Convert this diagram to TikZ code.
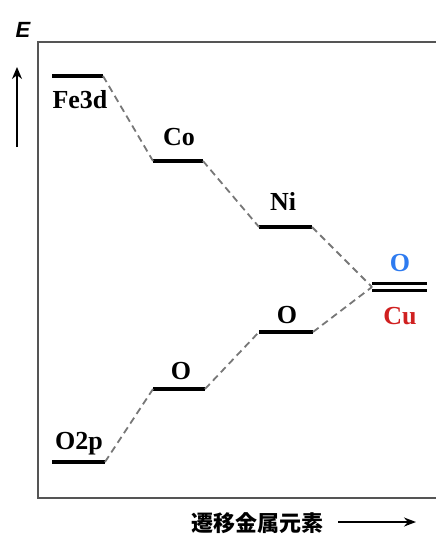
\documentclass[tikz,border=0pt]{standalone}
\usepackage{fontspec}
\setmainfont{Liberation Serif}
\newfontfamily\labsans{Liberation Sans}
\newfontfamily\cjk{Noto Sans CJK JP}
\usetikzlibrary{arrows.meta}
\definecolor{framegray}{HTML}{555555}
\definecolor{dashgray}{HTML}{777777}
\definecolor{oblue}{HTML}{2E7BF0}
\definecolor{cured}{HTML}{D02020}
\tikzset{
  level/.style={line width=3.2pt, black},
  conn/.style={dashgray, line width=1.8pt, dash pattern=on 7pt off 4.5pt},
  lab/.style={font=\fontsize{26}{30}\selectfont\bfseries, inner sep=0pt},
  frameline/.style={framegray, line width=2.4pt},
}
\begin{document}
\begin{tikzpicture}[x=1pt,y=-1pt]
\useasboundingbox (0,0) rectangle (436,535);
% frame
\draw[frameline] (436,42) -- (38,42) -- (38,498) -- (436,498);
% energy axis
\node[font=\labsans\fontsize{22}{24}\selectfont\bfseries\itshape, inner sep=0pt] (E) at (23,30) {E};
\coordinate (eb) at (17,147);
\coordinate (et) at (17,67);
\draw[black, line width=2pt, -{Stealth[length=12pt,width=10pt]}] (eb) -- (et);
% levels
\coordinate (feL) at (52,76);  \coordinate (feR) at (103,76);
\coordinate (coL) at (153,161); \coordinate (coR) at (203,161);
\coordinate (niL) at (259,227); \coordinate (niR) at (312,227);
\coordinate (cuL) at (372,287);
\coordinate (o2L) at (52,462); \coordinate (o2R) at (105,462);
\coordinate (o1L) at (153,389); \coordinate (o1R) at (205,389);
\coordinate (o0L) at (259,332); \coordinate (o0R) at (313,332);
\draw[level] (feL) -- (feR);
\draw[level] (coL) -- (coR);
\draw[level] (niL) -- (niR);
\draw[level] (o2L) -- (o2R);
\draw[level] (o1L) -- (o1R);
\draw[level] (o0L) -- (o0R);
\draw[black, line width=3pt] (372,283.5) -- (427,283.5);
\draw[black, line width=3pt] (372,290.8) -- (427,290.8);
% connectors
\draw[conn] (feR) -- (coL);
\draw[conn] (coR) -- (niL);
\draw[conn] (niR) -- (cuL);
\draw[conn] (o2R) -- (o1L);
\draw[conn] (o1R) -- (o0L);
\draw[conn] (o0R) -- (cuL);
% labels
\node[lab] (tfe) at (80,100) {Fe3d};
\node[lab] (tco) at (179,137) {Co};
\node[lab] (tni) at (283,201) {Ni};
\node[lab, oblue] (tob) at (400,263) {O};
\node[lab, cured] (tcu) at (400,316) {Cu};
\node[lab] (to0) at (287,315) {O};
\node[lab] (to1) at (181,371) {O};
\node[lab] (to2) at (79,444) {O2p};
% bottom axis
\node[font=\cjk\fontsize{22}{24}\selectfont\bfseries, inner sep=0pt] (tx) at (257,523) {遷移金属元素};
\coordinate (xa) at (338,522);
\coordinate (xb) at (416,522);
\draw[black, line width=1.8pt, -{Stealth[length=12pt,width=9pt]}] (xa) -- (xb);
\end{tikzpicture}
\end{document}
